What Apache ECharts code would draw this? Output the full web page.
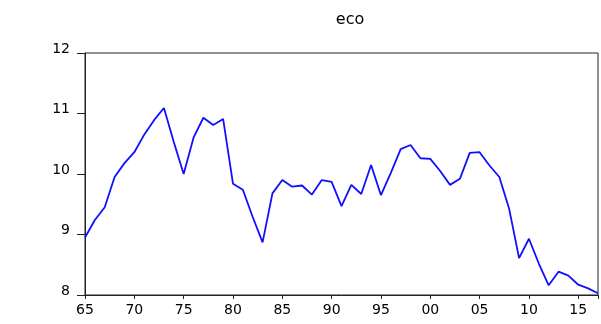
<!DOCTYPE html>
<html>
<head>
<meta charset="utf-8">
<script src="https://cdn.jsdelivr.net/npm/echarts@6/dist/echarts.min.js"></script>
<style>html,body{margin:0;padding:0;background:#fff;}#c{width:601px;height:324px;}</style>
</head>
<body>
<div id="c"></div>
<script>
const years = [1965,1966,1967,1968,1969,1970,1971,1972,1973,1974,1975,1976,1977,1978,1979,1980,1981,1982,1983,1984,1985,1986,1987,1988,1989,1990,1991,1992,1993,1994,1995,1996,1997,1998,1999,2000,2001,2002,2003,2004,2005,2006,2007,2008,2009,2010,2011,2012,2013,2014,2015,2016,2017];
const eco = [8.95,9.24,9.45,9.95,10.18,10.36,10.65,10.89,11.09,10.53,10.00,10.60,10.93,10.81,10.91,9.84,9.74,9.29,8.87,9.68,9.90,9.79,9.81,9.66,9.90,9.87,9.47,9.82,9.67,10.15,9.65,10.02,10.41,10.48,10.26,10.25,10.05,9.82,9.92,10.35,10.36,10.14,9.95,9.42,8.61,8.93,8.52,8.16,8.385,8.32,8.17,8.11,8.03];
const yTicks = [8, 9, 10, 11, 12];

const chart = echarts.init(document.getElementById('c'), null, {renderer: 'canvas'});
const font = 'DejaVu Sans';
chart.setOption({
  animation: false,
  backgroundColor: '#fff',
  title: {
    text: 'eco',
    left: 345,
    textAlign: 'center',
    top: 7,
    textStyle: {fontFamily: font, fontSize: 16, fontWeight: 'normal', color: '#000'}
  },
  grid: {
    left: 85, top: 53, right: -4, bottom: 29,
    show: true, borderColor: '#222', borderWidth: 1, backgroundColor: 'transparent'
  },
  xAxis: {
    type: 'value',
    min: 1965, max: 2017, interval: 5,
    splitLine: {show: false},
    axisLine: {show: true, lineStyle: {color: '#222', width: 1}},
    axisTick: {show: true, length: 4, inside: false, lineStyle: {color: '#222'}},
    axisLabel: {
      margin: 8,
      fontFamily: font, fontSize: 14, color: '#000',
      formatter: v => (v % 5 === 0 ? String(v).slice(2) : '')
    }
  },
  yAxis: {
    type: 'value',
    min: yTicks[0], max: yTicks[yTicks.length - 1], interval: 1,
    splitLine: {show: false},
    axisLine: {show: true, lineStyle: {color: '#222', width: 1}},
    axisTick: {show: true, length: 8, inside: false, lineStyle: {color: '#222'}},
    axisLabel: {
      margin: 15,
      fontFamily: font, fontSize: 14, color: '#000',
      lineHeight: 8,
      formatter: v => v + '\n'
    }
  },
  series: [{
    type: 'line',
    data: years.map((y, i) => [y, eco[i]]),
    symbol: 'none',
    lineStyle: {color: '#1010ff', width: 1.8},
    clip: false
  }]
});
</script>
</body>
</html>
